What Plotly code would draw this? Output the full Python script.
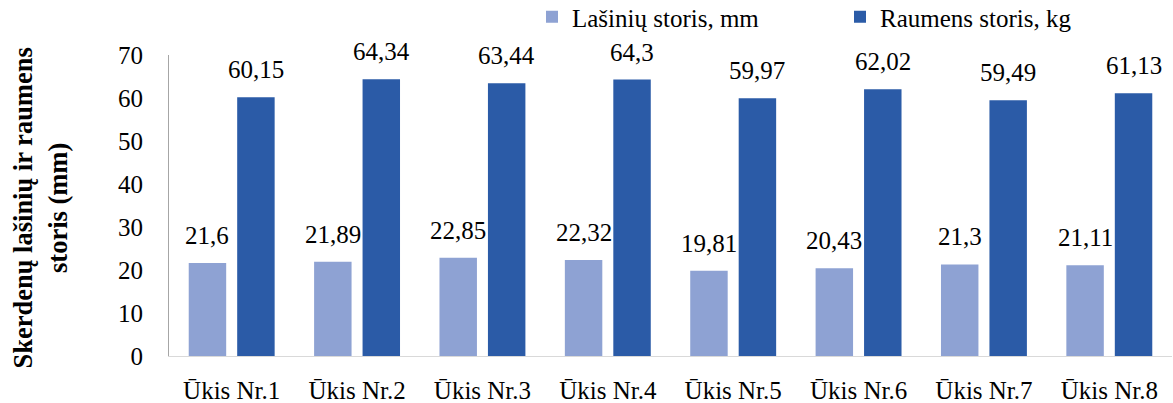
import plotly.graph_objects as go

categories = ["Ūkis Nr.1", "Ūkis Nr.2", "Ūkis Nr.3", "Ūkis Nr.4",
              "Ūkis Nr.5", "Ūkis Nr.6", "Ūkis Nr.7", "Ūkis Nr.8"]
lasiniu = [21.6, 21.89, 22.85, 22.32, 19.81, 20.43, 21.3, 21.11]
raumens = [60.15, 64.34, 63.44, 64.3, 59.97, 62.02, 59.49, 61.13]
series_names = ["Lašinių storis, mm", "Raumens storis, kg"]
y_ticks = [0, 10, 20, 30, 40, 50, 60, 70]

FONT = "Liberation Serif"
light = "#8EA2D3"
dark = "#2B5BA7"
bargap = 0.227
bargroupgap = 0.227

def fmt(v):
    s = f"{v:.2f}".rstrip("0").rstrip(".")
    return s.replace(".", ",")

fig = go.Figure()
fig.add_trace(go.Bar(x=categories, y=lasiniu, name=series_names[0],
                     marker=dict(color=light, line=dict(width=0))))
fig.add_trace(go.Bar(x=categories, y=raumens, name=series_names[1],
                     marker=dict(color=dark, line=dict(width=0))))

slot = (1 - bargap) / 2
annotations = []
for i in range(len(categories)):
    for vals, sign in ((lasiniu, -1), (raumens, 1)):
        annotations.append(dict(
            x=i + sign * slot / 2, y=vals[i], xref="x", yref="y",
            text=fmt(vals[i]), showarrow=False, yanchor="bottom",
            yshift=12, font=dict(family=FONT, size=25, color="#000000")))

annotations.append(dict(
    x=(40 - 169) / 1003, y=0.49, xref="paper", yref="paper",
    text="<b>Skerdenų lašinių ir raumens<br>storis (mm)</b>",
    textangle=-90, showarrow=False, xanchor="center", yanchor="middle",
    font=dict(family=FONT, size=26.5, color="#000000")))

fig.update_layout(
    width=1173, height=403,
    margin=dict(l=169, r=1, t=55, b=47, autoexpand=False),
    paper_bgcolor="white", plot_bgcolor="white",
    barmode="group", bargap=bargap, bargroupgap=bargroupgap,
    font=dict(family=FONT, size=25, color="#000000"),
    showlegend=True,
    legend=dict(orientation="h", x=(532 - 169) / 1003, y=1 + 61 / 301,
                xanchor="left", yanchor="top",
                font=dict(family=FONT, size=25, color="#000000"),
                entrywidth=263, bgcolor="rgba(0,0,0,0)"),
    annotations=annotations,
)
fig.update_xaxes(showline=True, linecolor="#D9D9D9", linewidth=1,
                 showgrid=False, ticks="", ticklabelstandoff=12,
                 tickfont=dict(family=FONT, size=25))
fig.update_yaxes(range=[0, 70], tickvals=y_ticks, showline=True,
                 linecolor="#A6A6A6", linewidth=1, showgrid=False,
                 zeroline=False, ticks="", ticklabelstandoff=20,
                 tickfont=dict(family=FONT, size=25))

fig.write_html("out.html", config={"displayModeBar": False},
               post_script="document.body.style.margin='0';document.body.style.overflow='hidden';")
